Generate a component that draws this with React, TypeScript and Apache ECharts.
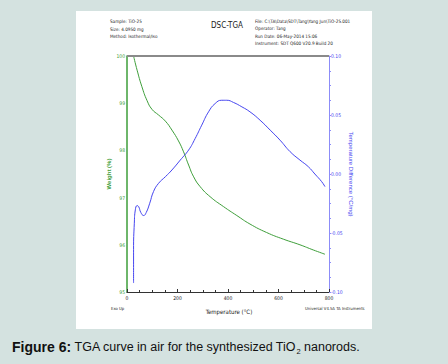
import React, { useEffect, useRef } from "react";
import * as echarts from "echarts";

const weightTemps = [26, 40, 59, 79, 99, 125, 152, 178, 204, 224, 244, 264, 290, 329, 382, 435, 487, 553, 619, 685, 738, 784];
const weightValues = [100, 99.7, 99.35, 99.06, 98.87, 98.75, 98.62, 98.43, 98.2, 97.97, 97.69, 97.44, 97.23, 97.02, 96.81, 96.62, 96.44, 96.26, 96.12, 96.0, 95.89, 95.8];

const dscTemps = [26, 26, 29, 33, 40, 46, 55, 66, 76, 90, 105, 125, 152, 178, 211, 244, 270, 296, 323, 349, 375, 395, 422, 455, 487, 527, 567, 606, 646, 685, 718, 744, 771, 784];
const dscValues = [-0.0924, -0.0642, -0.0417, -0.0304, -0.0268, -0.0276, -0.0327, -0.0352, -0.0327, -0.0248, -0.0149, -0.0079, -0.0023, 0.0034, 0.0118, 0.0203, 0.0301, 0.0414, 0.0527, 0.0597, 0.0625, 0.0625, 0.0606, 0.0569, 0.0527, 0.0456, 0.0372, 0.0287, 0.0189, 0.0118, 0.0062, 0.0, -0.0065, -0.0107];

const headerLeft = ["Sample: TiO-25", "Size: 4.0950 mg", "Method: Isothermal/Iso"];
const headerRight = [
  "File: C:\\TA\\Data\\SDT\\Tang\\Yang Jun\\TiO-25.001",
  "Operator: Tang",
  "Run Date: 06-May-2014 15:06",
  "Instrument: SDT Q600 V20.9 Build 20",
];

const GREEN = "#3e9e3a";
const BLUE = "#4646f0";
const FONT = "Liberation Sans, Arial, sans-serif";
const NARROW = "'Liberation Sans Narrow', 'Arial Narrow', 'DejaVu Sans Condensed', sans-serif";

export default function App() {
  const ref = useRef<HTMLDivElement>(null);
  useEffect(() => {
    const chart = echarts.init(ref.current!, null, { renderer: "svg" });
    const tiny = { fontFamily: NARROW, fontSize: 4.6, fill: "#222" };
    const graphics: any[] = [
      { type: "rect", shape: { x: 76, y: 11, width: 296, height: 318 }, style: { fill: "#ffffff" }, z: -10 },
      { type: "line", shape: { x1: 127, y1: 56, x2: 329, y2: 56 }, style: { stroke: "#8a8a8a", lineWidth: 2 }, z: 10 },
      { type: "text", x: 227, y: 25, style: { text: "DSC-TGA", fontFamily: NARROW, fontSize: 8, fill: "#222", align: "center", verticalAlign: "middle" } },
      { type: "text", x: 229, y: 311, style: { text: "Temperature (°C)", fontFamily: NARROW, fontSize: 6, fill: "#222", align: "center", verticalAlign: "middle" } },
      { type: "text", x: 111, y: 308, style: { text: "Exo Up", ...tiny, fontSize: 4.2, verticalAlign: "middle" } },
      { type: "text", x: 305, y: 308, style: { text: "Universal V4.5A TA Instruments", ...tiny, fontSize: 4.2, verticalAlign: "middle" } },
      {
        type: "text", x: 12, y: 347,
        style: {
          text: "{b|Figure 6:} {r|TGA curve in air for the synthesized TiO}{s|2}{r| nanorods.}",
          fontFamily: FONT, fontSize: 12.5, fill: "#111", verticalAlign: "middle",
          rich: {
            b: { fontWeight: "bold", fontFamily: FONT, fontSize: 14, fill: "#111" },
            r: { fontFamily: FONT, fontSize: 12.5, fill: "#111" },
            s: { fontFamily: FONT, fontSize: 7.5, fill: "#111", padding: [8, 0, 0, 0] },
          },
        },
      },
    ];
    headerLeft.forEach((t, i) => graphics.push({ type: "text", x: 110, y: 21.7 + i * 7.4, style: { text: t, ...tiny, verticalAlign: "middle" } }));
    headerRight.forEach((t, i) => graphics.push({ type: "text", x: 255, y: 21.7 + i * 7.2, style: { text: t, ...tiny, verticalAlign: "middle" } }));

    chart.setOption({
      animation: false,
      backgroundColor: "#d4e2e0",
      grid: { left: 127, right: 119, top: 56, bottom: 72 },
      xAxis: {
        type: "value", min: 0, max: 800, interval: 200,
        axisLine: { onZero: false, lineStyle: { color: "#333", width: 1 } },
        axisTick: { show: true, inside: true, length: 3, lineStyle: { color: "#333" } },
        minorTick: { show: true, splitNumber: 4, length: 2, lineStyle: { color: "#333" } },
        splitLine: { show: false },
        axisLabel: { fontFamily: NARROW, fontSize: 5, color: "#222", margin: 3 },
      },
      yAxis: [
        {
          type: "value", min: 95, max: 100, interval: 1, position: "left",
          name: "Weight (%)", nameLocation: "middle", nameGap: 15, nameRotate: 90, nameMoveOverlap: false,
          nameTextStyle: { color: GREEN, fontFamily: FONT, fontSize: 6, fontWeight: "bold" },
          axisLine: { show: true, lineStyle: { color: GREEN, width: 1.5 } },
          axisTick: { show: false },
          splitLine: { show: false },
          axisLabel: { fontFamily: NARROW, fontSize: 5, color: GREEN, margin: 2 },
        },
        {
          type: "value", min: -0.1, max: 0.1, interval: 0.05, position: "right",
          name: "Temperature Difference (°C/mg)", nameLocation: "middle", nameGap: 19, nameRotate: -90, nameMoveOverlap: false,
          nameTextStyle: { color: BLUE, fontFamily: FONT, fontSize: 6 },
          axisLine: { show: true, lineStyle: { color: "#8c8cf8", width: 1 } },
          axisTick: { show: true, length: 2, lineStyle: { color: "#8c8cf8" } },
          minorTick: { show: true, splitNumber: 4, length: 2, lineStyle: { color: "#8c8cf8" } },
          splitLine: { show: false },
          axisLabel: { fontFamily: NARROW, fontSize: 5, color: BLUE, margin: 2, formatter: (v: number) => v.toFixed(2) },
        },
      ],
      series: [
        {
          type: "line", yAxisIndex: 0, smooth: true, showSymbol: false,
          lineStyle: { color: GREEN, width: 1 }, itemStyle: { color: GREEN },
          data: weightTemps.map((t, i) => [t, weightValues[i]]),
        },
        {
          type: "line", yAxisIndex: 1, smooth: true, showSymbol: false,
          lineStyle: { color: BLUE, width: 1 }, itemStyle: { color: BLUE },
          data: dscTemps.map((t, i) => [t, dscValues[i]]),
        },
      ],
      graphic: graphics,
    });
    return () => chart.dispose();
  }, []);
  return <div ref={ref} style={{ position: "absolute", left: 0, top: 0, width: 448, height: 364 }} />;
}
